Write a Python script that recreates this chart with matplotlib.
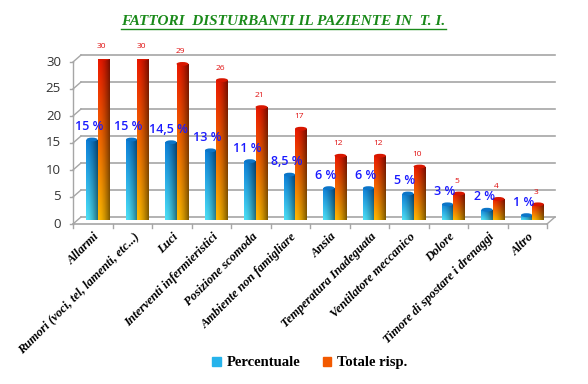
import numpy as np
import matplotlib.pyplot as plt
from matplotlib.lines import Line2D
from matplotlib.patches import Rectangle, Ellipse, Patch

# --- dati ---
categorie = ["Allarmi", "Rumori (voci, tel, lamenti, etc...)", "Luci",
             "Interventi infermieristici", "Posizione scomoda",
             "Ambiente non famigliare", "Ansia", "Temperatura Inadeguata",
             "Ventilatore meccanico", "Dolore",
             "Timore di spostare i drenaggi", "Altro"]
percentuale = [15, 15, 14.5, 13, 11, 8.5, 6, 6, 5, 3, 2, 1]
etichette_perc = ["15 %", "15 %", "14,5 %", "13 %", "11 %", "8,5 %",
                  "6 %", "6 %", "5 %", "3 %", "2 %", "1 %"]
totale = [30, 30, 29, 26, 21, 17, 12, 12, 10, 5, 4, 3]
valori_y = [0, 5, 10, 15, 20, 25, 30]

GRIGIO = "#a6a6a6"
VERDE = "#1a8a1a"
BLU_BASSO, BLU_ALTO = np.array([0.30, 0.88, 0.97]), np.array([0.05, 0.50, 0.85])
ROSSO_BASSO, ROSSO_ALTO = np.array([1.0, 0.72, 0.0]), np.array([0.92, 0.10, 0.0])


def cilindro(ax, x0, w, h, basso, alto):
    """Colonna con sfumatura (verticale + ombra a destra) e tappo ellittico."""
    t = np.linspace(0, 1, 40)[:, None, None]
    s = np.linspace(0, 1, 20)[None, :, None]
    col = basso * (1 - t) + alto * t
    ombra = 1.0 - 0.5 * s ** 1.6
    img = np.clip(col * ombra, 0, 1)
    im = ax.imshow(img, extent=[x0, x0 + w, 0, h], origin="lower",
                   aspect="auto", interpolation="bilinear", zorder=3)
    r = Rectangle((x0, 0), w, h, fc="none", ec="none")
    ax.add_patch(r)
    im.set_clip_path(r)
    ax.add_patch(Ellipse((x0 + w / 2, h), w, 0.7, fc=alto * 0.92, ec="none", zorder=4))


fig = plt.figure(figsize=(5.88, 3.84), dpi=100)
ax = fig.add_axes([77 / 588, 1 - 220.5 / 384, 474 / 588, 162 / 384])
ax.set_axis_off()

n = len(categorie)
x = np.arange(n)
px_x = 474 / n          # pixel per categoria
px_y = 162 / 30         # pixel per unità
dx, dy = 4 / px_x, 3.5 / px_y   # mezza profondità 3D

# parete di fondo e pavimento
for v in valori_y:
    ax.plot([-0.5 + dx, n - 0.5 + dx], [v + dy, v + dy], color=GRIGIO, lw=1.2, zorder=1, clip_on=False)
    ax.plot([-0.5 - dx, -0.5 + dx], [v - dy, v + dy], color=GRIGIO, lw=1.0, zorder=1, clip_on=False)
    ax.plot([-0.5 - dx - 3 / px_x, -0.5 - dx], [v - dy, v - dy], color=GRIGIO, lw=1.0, clip_on=False)
    ax.text(-0.5 - dx - 12 / px_x, v - dy, str(v), ha="right", va="center",
            fontsize=9.5, family="Open Sans", color="#333333")
ax.plot([-0.5 - dx, -0.5 - dx], [-dy, valori_y[-1] - dy], color=GRIGIO, lw=1.0, clip_on=False)
ax.plot([-0.5 - dx, n - 0.5 - dx], [-dy, -dy], color=GRIGIO, lw=1.2, zorder=1, clip_on=False)
ax.plot([n - 0.5 - dx, n - 0.5 + dx], [-dy, dy], color=GRIGIO, lw=1.0, zorder=1, clip_on=False)
for b in np.arange(n + 1) - 0.5:
    ax.plot([b - dx, b - dx], [-dy, -dy - 4 / px_y], color=GRIGIO, lw=1.0, clip_on=False)

# colonne
for i in range(n):
    cilindro(ax, x[i] - 0.26, 0.28, percentuale[i], BLU_BASSO, BLU_ALTO)
    cilindro(ax, x[i] + 0.02, 0.30, totale[i], ROSSO_BASSO, ROSSO_ALTO)
    ax.text(x[i] - 0.12 - 3 / px_x, percentuale[i] + 13 / px_y, etichette_perc[i],
            ha="center", va="center", color="#1a1aff", fontsize=9,
            family="Open Sans", weight="semibold", zorder=5)
    ax.text(x[i] + 0.17 - 2 / px_x, totale[i] + 12 / px_y, str(totale[i]),
            ha="center", va="center", color="#e01010", fontsize=6,
            family="Open Sans", zorder=5)
    ax.text(x[i] - dx + 5 / px_x, -dy - 11 / px_y, categorie[i], rotation=45,
            rotation_mode="anchor", ha="right", va="center", fontsize=9,
            family="Liberation Serif", style="italic", weight="bold")

ax.set_xlim(-0.5, n - 0.5)
ax.set_ylim(0, 30)

fig.legend(handles=[Patch(color=(0.15, 0.7, 0.92)), Patch(color=(0.95, 0.35, 0.0))],
           labels=["Percentuale", "Totale risp."], loc="center",
           bbox_to_anchor=(0.527, 0.055), ncol=2, frameon=False,
           prop=dict(family="Liberation Serif", weight="bold", size=10.5),
           handlelength=0.6, handleheight=0.6, columnspacing=1.5, handletextpad=0.4)

titolo = fig.text(0.482, 0.945, "FATTORI  DISTURBANTI IL PAZIENTE IN  T. I.",
                  ha="center", va="center", color=VERDE, family="Liberation Serif",
                  style="italic", weight="bold", fontsize=11)
fig.canvas.draw()
bb = titolo.get_window_extent().transformed(fig.transFigure.inverted())
fig.add_artist(Line2D([bb.x0, bb.x1], [bb.y0 - 0.003, bb.y0 - 0.003],
                      transform=fig.transFigure, color=VERDE, lw=1.0))

fig.savefig("out.png", dpi=100)
